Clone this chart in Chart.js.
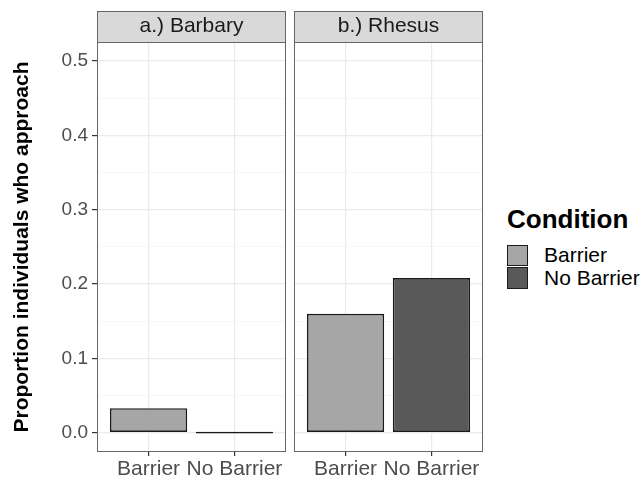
<!DOCTYPE html>
<html>
<head>
<meta charset="utf-8">
<script src="https://cdn.jsdelivr.net/npm/chart.js@4.4.0/dist/chart.umd.min.js"></script>
<style>
  body { margin: 0; background: #fff; width: 641px; height: 481px; position: relative; overflow: hidden;
         font-family: 'Liberation Sans', Arial, Helvetica, sans-serif; }
  canvas { position: absolute; top: 0; }
  #panelA { left: 0; }
  #panelB { left: 290px; }
  #legend { position: absolute; left: 507px; top: 206px; color: #000; }
  #legend .title { font-weight: bold; font-size: 26px; line-height: 26px; margin-bottom: 12px; }
  #legend .row { display: flex; align-items: center; height: 22.5px; font-size: 21px; line-height: 22.5px; }
  #legend .key { width: 19px; height: 19.5px; border: 1.5px solid #1a1a1a; margin-right: 16px; }
</style>
</head>
<body>
<canvas id="panelA" width="290" height="481"></canvas>
<canvas id="panelB" width="197" height="481"></canvas>
<div id="legend">
  <div class="title">Condition</div>
  <div class="row"><div class="key" id="key0"></div><span id="lab0"></span></div>
  <div class="row"><div class="key" id="key1"></div><span id="lab1"></span></div>
</div>
<script>
// data
const categories = ['Barrier', 'No Barrier'];
const barbaryValues = [0.033, 0];
const rhesusValues = [0.16, 0.208];
const yTicks = [0, 0.1, 0.2, 0.3, 0.4, 0.5];
const yMinorTicks = [0.05, 0.15, 0.25, 0.35, 0.45];
const panelTitles = ['a.) Barbary', 'b.) Rhesus'];
const yTitle = 'Proportion individuals who approach';
const legendTitle = 'Condition';

const fillColors = ['#a6a6a6', '#595959'];
const fontFamily = "'Liberation Sans', Arial, Helvetica, sans-serif";
const STRIP_H = 31;

const isMajor = v => yTicks.some(t => Math.abs(t - v) < 1e-9);

// strip background + panel border like ggplot facets
const stripPlugin = {
    id: 'strip',
    beforeDraw(chart) {
        const { ctx, chartArea: a } = chart;
        ctx.save();
        ctx.fillStyle = '#d9d9d9';
        ctx.fillRect(a.left, a.top - STRIP_H, a.right - a.left, STRIP_H);
        ctx.restore();
    },
    afterDraw(chart) {
        const { ctx, chartArea: a } = chart;
        ctx.save();
        ctx.strokeStyle = '#666';
        ctx.lineWidth = 1;
        ctx.strokeRect(a.left + 0.5, a.top - STRIP_H + 0.5, a.right - a.left - 1, STRIP_H);
        ctx.strokeRect(a.left + 0.5, a.top + 0.5, a.right - a.left - 1, a.bottom - a.top - 1);
        ctx.restore();
    }
};

function makePanel(id, title, values, showY) {
    const ctx = document.getElementById(id).getContext('2d');
    return new Chart(ctx, {
        type: 'bar',
        data: {
            datasets: [{
                data: categories.map((c, i) => ({ x: i + 1, y: values[i] })),
                backgroundColor: fillColors,
                borderColor: '#1a1a1a',
                borderWidth: 1.7,
                borderSkipped: false,
                minBarLength: 1.7,
                categoryPercentage: 1,
                barPercentage: 0.9
            }]
        },
        options: {
            responsive: false,
            animation: false,
            layout: { padding: { top: 11, left: showY ? 0 : 4, right: 4, bottom: 0 } },
            plugins: {
                legend: { display: false },
                tooltip: { enabled: false },
                title: {
                    display: true,
                    text: title,
                    fullSize: false,
                    color: '#1a1a1a',
                    font: { family: fontFamily, size: 21, weight: 'normal', lineHeight: 1.2 },
                    padding: { top: 2.9, bottom: 2.9 }
                }
            },
            scales: {
                x: {
                    type: 'linear',
                    min: 0.4,
                    max: 2.6,
                    offset: false,
                    afterBuildTicks: s => { s.ticks = categories.map((c, i) => ({ value: i + 1 })); },
                    afterFit: s => { s.height = 29; },
                    ticks: {
                        callback: (v, i) => categories[i],
                        color: '#4d4d4d',
                        font: { family: fontFamily, size: 21 },
                        padding: 1,
                        maxRotation: 0,
                        autoSkip: false
                    },
                    grid: { offset: false, color: '#ebebeb', lineWidth: 1.2, tickLength: 4, tickColor: '#333' },
                    border: { display: false }
                },
                y: {
                    min: -0.026,
                    max: 0.5255,
                    afterBuildTicks: s => {
                        s.ticks = yTicks.concat(yMinorTicks).sort((a, b) => a - b).map(v => ({ value: v }));
                    },
                    afterFit: s => { s.width = showY ? 97 : 0; },
                    ticks: {
                        display: showY,
                        callback: v => isMajor(v) ? v.toFixed(1) : '',
                        color: '#4d4d4d',
                        font: { family: fontFamily, size: 19 },
                        padding: 4
                    },
                    grid: {
                        color: c => isMajor(c.tick.value) ? '#ebebeb' : '#f4f4f4',
                        lineWidth: c => isMajor(c.tick.value) ? 1.2 : 0.8,
                        drawTicks: showY,
                        tickLength: 5,
                        tickColor: c => isMajor(c.tick.value) ? '#333' : 'rgba(0,0,0,0)'
                    },
                    border: { display: false },
                    title: {
                        display: showY,
                        text: yTitle,
                        color: '#000',
                        font: { family: fontFamily, size: 21, weight: 'bold', lineHeight: 1.2 },
                        padding: { top: 9.4, bottom: 0 }
                    }
                }
            }
        },
        plugins: [stripPlugin]
    });
}

document.addEventListener('DOMContentLoaded', () => {
    makePanel('panelA', panelTitles[0], barbaryValues, true);
    makePanel('panelB', panelTitles[1], rhesusValues, false);

    // Legend
    document.querySelector('#legend .title').textContent = legendTitle;
    categories.forEach((c, i) => {
        document.getElementById('key' + i).style.background = fillColors[i];
        document.getElementById('lab' + i).textContent = c;
    });
});
</script>
</body>
</html>
